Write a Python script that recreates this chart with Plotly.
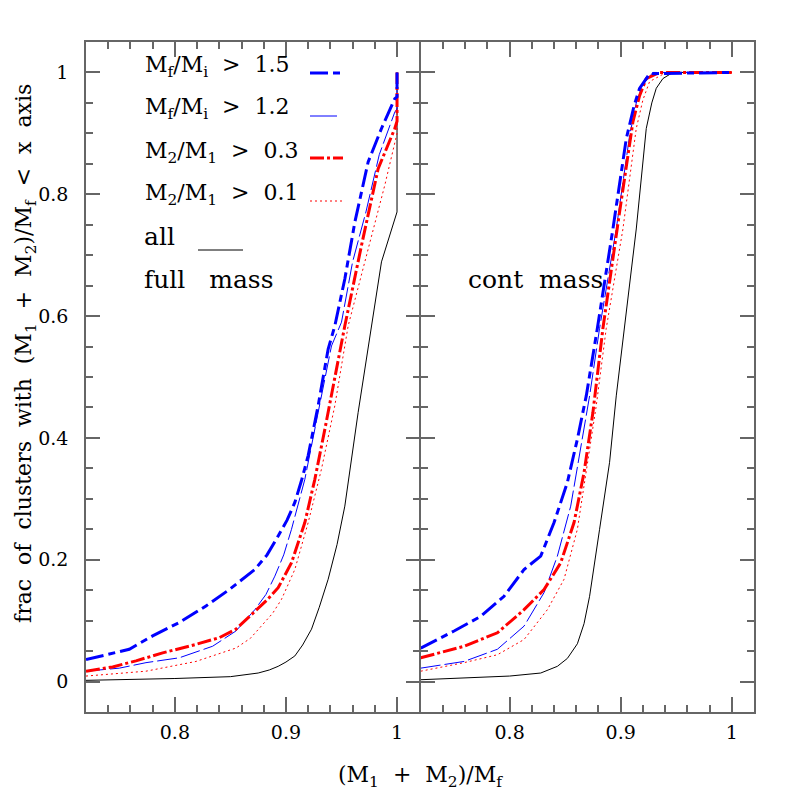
import plotly.graph_objects as go
from plotly.subplots import make_subplots

# --- cumulative fractions ---
# left panel: full mass
all_full_x = [0.72, 0.76, 0.80, 0.85, 0.875, 0.885, 0.893, 0.900, 0.908, 0.915, 0.923, 0.930, 0.938, 0.946,
              0.953, 0.965, 0.977, 0.986, 1.0, 1.0]
all_full_y = [0.002, 0.003, 0.005, 0.008, 0.014, 0.019, 0.025, 0.032, 0.042, 0.060, 0.086, 0.122, 0.168, 0.225,
              0.288, 0.442, 0.579, 0.689, 0.771, 1.0]

b15_full_x = [0.72, 0.74, 0.759, 0.78, 0.804, 0.828, 0.849, 0.872, 0.883, 0.893, 0.901, 0.908, 0.914, 0.920,
              0.929, 0.938, 0.944, 0.953, 0.962, 0.974, 0.986, 0.998, 1.0, 1.0]
b15_full_y = [0.036, 0.045, 0.053, 0.075, 0.097, 0.124, 0.151, 0.184, 0.208, 0.239, 0.265, 0.294, 0.330, 0.371,
              0.453, 0.546, 0.584, 0.661, 0.754, 0.853, 0.908, 0.957, 0.96, 1.0]

b12_full_x = [0.72, 0.75, 0.774, 0.804, 0.834, 0.855, 0.872, 0.882, 0.890, 0.898, 0.905, 0.917, 0.929, 0.941,
              0.950, 0.960, 0.972, 0.984, 0.998, 1.0, 1.0]
b12_full_y = [0.017, 0.022, 0.031, 0.039, 0.058, 0.083, 0.118, 0.143, 0.173, 0.208, 0.25, 0.332, 0.442, 0.551,
              0.590, 0.689, 0.771, 0.865, 0.935, 0.94, 1.0]

r03_full_x = [0.72, 0.744, 0.765, 0.789, 0.819, 0.84, 0.855, 0.872, 0.883, 0.893, 0.905, 0.917, 0.926, 0.935,
              0.944, 0.953, 0.968, 0.983, 0.998, 1.0, 1.0]
r03_full_y = [0.017, 0.024, 0.034, 0.047, 0.061, 0.072, 0.086, 0.116, 0.134, 0.154, 0.195, 0.261, 0.332, 0.414,
              0.497, 0.584, 0.716, 0.842, 0.908, 0.92, 1.0]

r01_full_x = [0.72, 0.774, 0.819, 0.855, 0.868, 0.878, 0.888, 0.896, 0.908, 0.920, 0.932, 0.944, 0.956, 0.971,
              0.989, 1.0, 1.0]
r01_full_y = [0.009, 0.017, 0.033, 0.055, 0.071, 0.091, 0.112, 0.135, 0.184, 0.261, 0.349, 0.453, 0.584, 0.689,
              0.815, 0.90, 1.0]

# right panel: cont mass
all_cont_x = [0.72, 0.80, 0.828, 0.843, 0.852, 0.861, 0.867, 0.872, 0.881, 0.890, 0.896, 0.903, 0.914, 0.923,
              0.928, 0.932, 0.938, 0.947, 1.0]
all_cont_y = [0.003, 0.009, 0.014, 0.025, 0.038, 0.062, 0.095, 0.14, 0.25, 0.36, 0.469, 0.579, 0.743, 0.908,
              0.950, 0.974, 0.990, 1.0, 1.0]

b15_cont_x = [0.72, 0.75, 0.774, 0.795, 0.813, 0.828, 0.840, 0.852, 0.861, 0.869, 0.879, 0.893, 0.905, 0.912,
              0.917, 0.926, 1.0]
b15_cont_y = [0.055, 0.083, 0.107, 0.14, 0.184, 0.206, 0.261, 0.327, 0.398, 0.469, 0.58, 0.743, 0.891, 0.945,
              0.974, 0.998, 1.0]

b12_cont_x = [0.72, 0.759, 0.789, 0.813, 0.831, 0.843, 0.855, 0.863, 0.872, 0.881, 0.896, 0.908, 0.914, 0.920,
              0.929, 1.0]
b12_cont_y = [0.022, 0.033, 0.053, 0.091, 0.146, 0.206, 0.288, 0.371, 0.469, 0.58, 0.743, 0.896, 0.950, 0.98,
              1.0, 1.0]

r03_cont_x = [0.72, 0.759, 0.789, 0.813, 0.831, 0.846, 0.858, 0.867, 0.875, 0.884, 0.899, 0.911, 0.917, 0.923,
              0.935, 1.0]
r03_cont_y = [0.039, 0.058, 0.08, 0.118, 0.151, 0.195, 0.261, 0.343, 0.442, 0.58, 0.771, 0.919, 0.962, 0.99,
              1.0, 1.0]

r01_cont_x = [0.72, 0.759, 0.789, 0.813, 0.834, 0.849, 0.861, 0.869, 0.878, 0.887, 0.902, 0.914, 0.920, 0.926,
              0.941, 1.0]
r01_cont_y = [0.017, 0.031, 0.044, 0.069, 0.118, 0.168, 0.25, 0.343, 0.453, 0.58, 0.743, 0.908, 0.955, 0.985,
              1.0, 1.0]

legend_labels = [
    "M<sub>f</sub>/M<sub>i</sub>&nbsp;&nbsp;&gt;&nbsp;&nbsp;1.5",
    "M<sub>f</sub>/M<sub>i</sub>&nbsp;&nbsp;&gt;&nbsp;&nbsp;1.2",
    "M<sub>2</sub>/M<sub>1</sub>&nbsp;&nbsp;&gt;&nbsp;&nbsp;0.3",
    "M<sub>2</sub>/M<sub>1</sub>&nbsp;&nbsp;&gt;&nbsp;&nbsp;0.1",
]

FONT = "DejaVu Serif"
# the page body has an 8px margin, so the figure is 8px smaller and the
# left/top margins 8px narrower to land the frame where the reference has it
OFF = 8
W, H = 797 - OFF, 797 - OFF
L, R, T, B = 86 - OFF, 43, 42 - OFF, 85


def px(x):
    # window pixel -> paper fraction
    return (x - OFF - L) / (W - L - R)


def py(y):
    return (H - B - (y - OFF)) / (H - T - B)


styles = {
    "b15": dict(color="#0000ff", width=3, dash="18px,5px,7px,5px"),
    "b12": dict(color="#0000ff", width=1, dash="20px,4px"),
    "r03": dict(color="#ff0000", width=3, dash="14px,3px,3px,3px"),
    "r01": dict(color="#ff0000", width=1, dash="2px,3px"),
    "all": dict(color="black", width=1),
}

fig = make_subplots(rows=1, cols=2, shared_yaxes=True, horizontal_spacing=1.5 / 668)

panels = [
    (1, [("all", all_full_x, all_full_y), ("r01", r01_full_x, r01_full_y), ("b12", b12_full_x, b12_full_y),
         ("r03", r03_full_x, r03_full_y), ("b15", b15_full_x, b15_full_y)]),
    (2, [("all", all_cont_x, all_cont_y), ("r01", r01_cont_x, r01_cont_y), ("b12", b12_cont_x, b12_cont_y),
         ("r03", r03_cont_x, r03_cont_y), ("b15", b15_cont_x, b15_cont_y)]),
]
for col, curves in panels:
    for key, xs, ys in curves:
        fig.add_trace(go.Scatter(x=xs, y=ys, mode="lines", line=styles[key], showlegend=False,
                                 hoverinfo="skip"), row=1, col=col)

axis_common = dict(showline=True, linecolor="#666666", linewidth=1.5, mirror="ticks",
                   ticks="inside", tickcolor="#666666", tickwidth=1.5, showgrid=False, zeroline=False,
                   tickfont=dict(family=FONT, size=19, color="black"))
for col in (1, 2):
    fig.update_xaxes(range=[0.72, 1.02], tickvals=[0.8, 0.9, 1.0], ticktext=["0.8", "0.9", "1"],
                     ticklen=15, ticklabelstandoff=2,
                     minor=dict(dtick=0.02, tick0=0.0, ticklen=7, ticks="inside", tickcolor="#666666",
                                tickwidth=1.5, showgrid=False),
                     row=1, col=col, **axis_common)
    fig.update_yaxes(range=[-0.05, 1.05], tickvals=[0, 0.2, 0.4, 0.6, 0.8, 1.0],
                     ticktext=["0", "0.2", "0.4", "0.6", "0.8", "1"], ticklen=14, ticklabelstandoff=12,
                     minor=dict(dtick=0.05, tick0=0.0, ticklen=7, ticks="inside", tickcolor="#666666",
                                tickwidth=1.5, showgrid=False),
                     row=1, col=col, **axis_common)

# legend text and sample lines
row_y = [66, 109, 152, 195]
for lab, yy in zip(legend_labels, row_y):
    fig.add_annotation(x=px(143), y=py(yy), xref="paper", yref="paper", text=lab, showarrow=False,
                       xanchor="left", yanchor="middle", font=dict(family=FONT, size=22, color="black"))
sample_keys = ["b15", "b12", "r03", "r01"]
sample_y = [73, 116, 158, 201]
sample_end = [343, 337, 343, 343]
sample_dash = ["18px,5px,7px,5px", "solid", "14px,3px,3px,3px", "2px,3px"]
for key, yy, xe, dsh in zip(sample_keys, sample_y, sample_end, sample_dash):
    st = styles[key]
    fig.add_shape(type="line", xref="paper", yref="paper", x0=px(310), x1=px(xe), y0=py(yy), y1=py(yy),
                  line=dict(color=st["color"], width=st["width"], dash=dsh))

word_font = dict(family=FONT, size=25, color="black")
fig.add_annotation(x=px(142), y=py(236), xref="paper", yref="paper", text="all", showarrow=False,
                   xanchor="left", yanchor="middle", font=word_font)
fig.add_shape(type="line", xref="paper", yref="paper", x0=px(198), x1=px(243), y0=py(250), y1=py(250),
              line=dict(color="black", width=1))
fig.add_annotation(x=px(142), y=py(279), xref="paper", yref="paper", text="full&nbsp;&nbsp;&nbsp;mass",
                   showarrow=False, xanchor="left", yanchor="middle", font=word_font)
fig.add_annotation(x=px(466), y=py(279), xref="paper", yref="paper", text="cont&nbsp;&nbsp;mass",
                   showarrow=False, xanchor="left", yanchor="middle", font=word_font)

# axis titles
fig.add_annotation(x=px(420), y=py(776), xref="paper", yref="paper",
                   text="(M<sub>1</sub>&nbsp;&nbsp;+&nbsp;&nbsp;M<sub>2</sub>)/M<sub>f</sub>",
                   showarrow=False, xanchor="center", yanchor="middle",
                   font=dict(family=FONT, size=22, color="black"))
fig.add_annotation(x=px(25), y=py(354), xref="paper", yref="paper", textangle=-90,
                   text="frac&nbsp;&nbsp;of&nbsp;&nbsp;clusters&nbsp;&nbsp;with&nbsp;&nbsp;(M<sub>1</sub>"
                        "&nbsp;&nbsp;+&nbsp;&nbsp;M<sub>2</sub>)/M<sub>f</sub>&nbsp;&nbsp;&lt;&nbsp;&nbsp;x"
                        "&nbsp;&nbsp;axis",
                   showarrow=False, xanchor="center", yanchor="middle",
                   font=dict(family=FONT, size=22, color="black"))

fig.update_layout(width=W, height=H, margin=dict(l=L, r=R, t=T, b=B),
                  paper_bgcolor="white", plot_bgcolor="white", showlegend=False)

fig.write_html("out.html")
